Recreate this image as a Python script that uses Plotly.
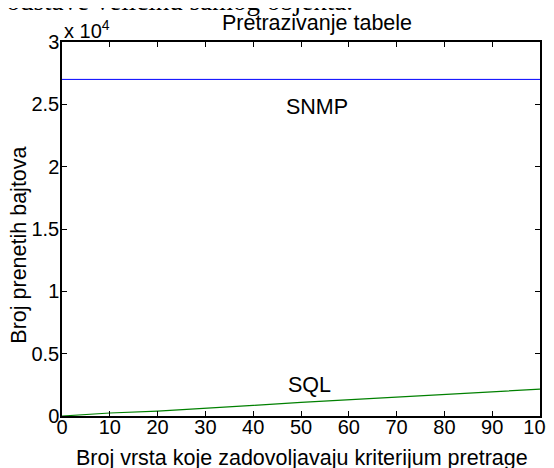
import plotly.graph_objects as go

# Data
x_vals = [0, 10, 20, 30, 40, 50, 60, 70, 80, 90, 100]
snmp_bytes = [27000] * 11
sql_bytes = [0, 240, 390, 650, 850, 1100, 1300, 1550, 1760, 1950, 2150]
y_tick_vals = [0, 5000, 10000, 15000, 20000, 25000, 30000]
y_tick_text = ["0", "0.5", "1", "1.5", "2", "2.5", "3"]
x_tick_vals = [0, 10, 20, 30, 40, 50, 60, 70, 80, 90, 100]

FONT = "Liberation Sans, Arial, sans-serif"
FS_T = 20
FS = 21.5

fig = go.Figure()
fig.add_trace(go.Scatter(x=x_vals, y=snmp_bytes, mode="lines",
                         line=dict(color="#0000ff", width=1), showlegend=False))
fig.add_trace(go.Scatter(x=x_vals, y=sql_bytes, mode="lines",
                         line=dict(color="#008000", width=1.2), showlegend=False))

axis_common = dict(showline=True, linecolor="black", linewidth=1.5, mirror="allticks",
                   ticks="inside", ticklen=5, tickcolor="black", tickwidth=1,
                   showgrid=False, zeroline=False, ticklabeloverflow="allow",
                   automargin=False,
                   tickfont=dict(family=FONT, size=FS_T, color="black"))

fig.update_xaxes(range=[0, 100], tickvals=x_tick_vals, ticklabelstandoff=-8, **axis_common)
fig.update_yaxes(range=[0, 30000], tickvals=y_tick_vals, ticktext=y_tick_text,
                 ticklabelstandoff=-3, **axis_common)

# axis titles and plot title as annotations (positioned like the reference)
fig.add_annotation(xref="paper", yref="paper", x=0.502, y=-0.111, xanchor="center",
                   yanchor="middle", showarrow=False,
                   text="Broj vrsta koje zadovoljavaju kriterijum pretrage",
                   font=dict(family=FONT, size=FS, color="black"))
fig.add_annotation(xref="paper", yref="paper", x=-0.090, y=0.458, xanchor="center",
                   yanchor="middle", showarrow=False, textangle=-90,
                   text="Broj prenetih bajtova",
                   font=dict(family=FONT, size=FS, color="black"))
fig.add_annotation(xref="paper", yref="paper", x=0.5335, y=1.052, xanchor="center",
                   yanchor="middle", showarrow=False, text="Pretrazivanje tabele",
                   font=dict(family=FONT, size=FS, color="black"))

fig.add_annotation(x=53.3, y=24760, text="SNMP", showarrow=False,
                   font=dict(family=FONT, size=FS, color="black"))
fig.add_annotation(x=51.7, y=2520, text="SQL", showarrow=False,
                   font=dict(family=FONT, size=FS, color="black"))
fig.add_annotation(xref="paper", yref="paper", x=0, y=1, xanchor="left", yanchor="bottom",
                   text="x 10<sup>4</sup>", showarrow=False, yshift=-2,
                   font=dict(family=FONT, size=FS_T, color="black"))
fig.add_annotation(xref="paper", yref="paper", x=(355 - 62) / 478, y=1, xanchor="right",
                   yanchor="bottom", text="podstave veličinu samog objekta.", showarrow=False,
                   yshift=24,
                   font=dict(family="Liberation Serif, Times New Roman, serif", size=27,
                             color="black"))

fig.update_layout(width=546, height=460, margin=dict(l=54, r=14, t=34, b=52),
                  paper_bgcolor="white", plot_bgcolor="white")

fig.write_html("out.html")
